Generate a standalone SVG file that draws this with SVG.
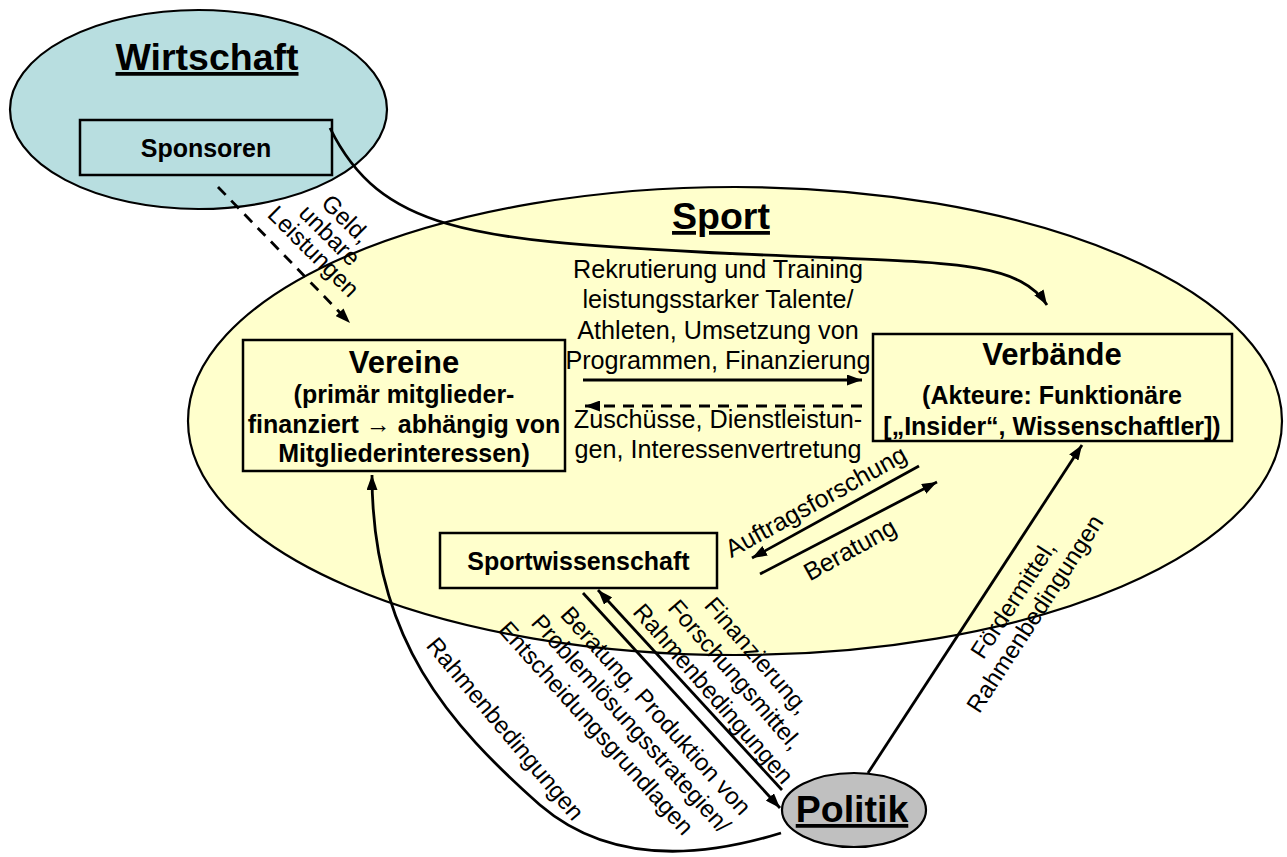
<svg xmlns="http://www.w3.org/2000/svg" width="1287" height="857" viewBox="0 0 1287 857">
<defs>
<style>
text{font-family:"Liberation Sans",Arial,sans-serif;fill:#000}
.title{font-size:37.5px;font-weight:bold;text-decoration:underline}
.h{font-size:31px;font-weight:bold}
.b{font-size:25px;font-weight:bold}
.r{font-size:25.2px}
.lbl{font-size:24px}
.box{fill:none;stroke:#000;stroke-width:2.5}
.ell{stroke:#000;stroke-width:2.2}
.ln{fill:none;stroke:#000;stroke-width:2.8}
.dash{stroke-dasharray:11 8}
</style>
<marker id="ah" viewBox="0 0 15 11" refX="15" refY="5.5" markerWidth="15" markerHeight="11" markerUnits="userSpaceOnUse" orient="auto">
<path d="M0,0 L15,5.5 L0,11 z" fill="#000"/>
</marker>
</defs>

<g id="sport">
<ellipse class="ell" cx="735" cy="421" rx="547" ry="234" fill="#FFFFCC"/>
<text class="title" x="721" y="229" text-anchor="middle">Sport</text>
</g>

<g id="wirtschaft">
<ellipse class="ell" cx="198.5" cy="109.5" rx="188.5" ry="99.5" fill="#B8DEE0"/>
<text class="title" x="207" y="70" text-anchor="middle">Wirtschaft</text>
</g>

<g id="sponsoren">
<rect class="box" x="80" y="120" width="252" height="55"/>
<text class="b" x="206" y="157" text-anchor="middle">Sponsoren</text>
</g>

<g id="vereine">
<rect class="box" x="243" y="340" width="322" height="131"/>
<text class="h" x="404" y="373" text-anchor="middle">Vereine</text>
<text class="b" text-anchor="middle"><tspan x="404" y="403">(primär mitglieder-</tspan><tspan x="404" y="433">finanziert → abhängig von</tspan><tspan x="404" y="462">Mitgliederinteressen)</tspan></text>
</g>

<g id="verbaende">
<rect class="box" x="873" y="334" width="359" height="107"/>
<text class="h" x="1052" y="365" text-anchor="middle">Verbände</text>
<text class="b" text-anchor="middle"><tspan x="1052" y="404">(Akteure: Funktionäre</tspan><tspan x="1052" y="435">[„Insider“, Wissenschaftler])</tspan></text>
</g>

<g id="sportwissenschaft">
<rect class="box" x="440" y="533" width="277" height="55"/>
<text class="b" x="578.5" y="570" text-anchor="middle">Sportwissenschaft</text>
</g>

<g id="politik">
<ellipse class="ell" cx="854" cy="810" rx="72" ry="37" fill="#C0C0C0"/>
<text class="title" x="852" y="822" text-anchor="middle">Politik</text>
</g>

<g id="connectors">
<path class="ln dash" d="M218,187 L350,323" marker-end="url(#ah)"/>
<path class="ln" d="M330,128 C380,230 470,240 700,252 S1015,255 1047,305" marker-end="url(#ah)"/>
<path class="ln" d="M583,380 L862,380" marker-end="url(#ah)"/>
<path class="ln dash" d="M862,406 L585,406" marker-end="url(#ah)"/>
<path class="ln" d="M919,466 L752,558" marker-end="url(#ah)"/>
<path class="ln" d="M760,574 L937,482" marker-end="url(#ah)"/>
<path class="ln" d="M583,593 L780,808" marker-end="url(#ah)"/>
<path class="ln" d="M782,790 L598,590" marker-end="url(#ah)"/>
<path class="ln" d="M868,773 L1082,445" marker-end="url(#ah)"/>
<path class="ln" d="M781,833 C700,858 610,865 540,805 C450,725 372,640 372,475" marker-end="url(#ah)"/>
</g>

<g id="labels">
<text class="r" text-anchor="middle"><tspan x="718" y="278">Rekrutierung und Training</tspan><tspan x="718" y="308">leistungsstarker Talente/</tspan><tspan x="718" y="339">Athleten, Umsetzung von</tspan><tspan x="718" y="369">Programmen, Finanzierung</tspan></text>
<text class="r" text-anchor="middle"><tspan x="718" y="428">Zuschüsse, Dienstleistun-</tspan><tspan x="718" y="458">gen, Interessenvertretung</tspan></text>
<text class="lbl" text-anchor="middle" transform="translate(324,241) rotate(45)"><tspan x="0" y="-23">Geld,</tspan><tspan x="0" y="0">unbare</tspan><tspan x="0" y="23">Leistungen</tspan></text>
<text class="lbl" text-anchor="middle" style="font-size:25px" transform="translate(820,509) rotate(-29)">Auftragsforschung</text>
<text class="lbl" text-anchor="middle" style="font-size:25px" transform="translate(854,557) rotate(-29)">Beratung</text>
<text class="lbl" text-anchor="middle" transform="translate(1020,604) rotate(-57)"><tspan x="0" y="0">Fördermittel,</tspan><tspan x="0" y="26">Rahmenbedingungen</tspan></text>
<text class="lbl" text-anchor="middle" transform="translate(729,680) rotate(49)"><tspan x="0" y="-29">Finanzierung,</tspan><tspan x="0" y="0">Forschungsmittel,</tspan><tspan x="0" y="29">Rahmenbedingungen</tspan></text>
<text class="lbl" text-anchor="middle" transform="translate(625,729) rotate(48)"><tspan x="7" y="-27">Beratung, Produktion von</tspan><tspan x="0" y="0">Problemlösungsstrategien/</tspan><tspan x="-20" y="29">Entscheidungsgrundlagen</tspan></text>
<text class="lbl" text-anchor="middle" transform="translate(499,734) rotate(50)">Rahmenbedingungen</text>
</g>
</svg>
